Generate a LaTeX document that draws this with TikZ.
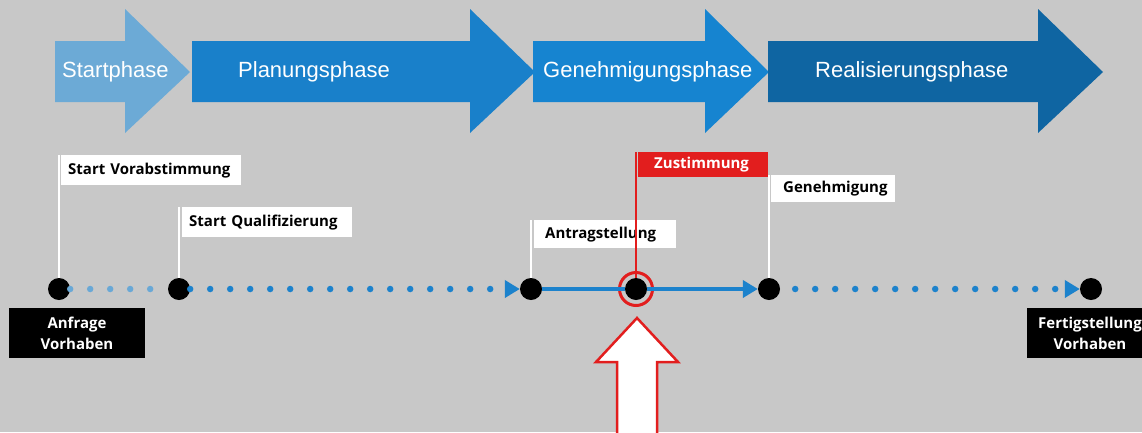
\documentclass[tikz,border=0pt]{standalone}
\usepackage{fontspec}
\setmainfont{Liberation Sans}
\newfontfamily\lblfont{Open Sans}
\usetikzlibrary{arrows.meta}
\definecolor{bggray}{RGB}{200,200,200}
\definecolor{phaseA}{RGB}{108,170,214}
\definecolor{phaseB}{RGB}{25,128,202}
\definecolor{phaseC}{RGB}{22,132,208}
\definecolor{phaseD}{RGB}{15,101,162}
\definecolor{dotlight}{RGB}{105,168,214}
\definecolor{dotblue}{RGB}{28,130,204}
\definecolor{alarmred}{RGB}{226,30,30}
\begin{document}
\begin{tikzpicture}[x=1pt,y=-1pt,
  phasetext/.style={text=white,font=\fontsize{22}{26}\selectfont,anchor=west,inner sep=0pt},
  mdot/.style={circle,fill=black,minimum size=22pt,inner sep=0pt},
  lbl/.style={fill=white,anchor=north west,font=\lblfont\bfseries\fontsize{15}{18}\selectfont,align=left,inner ysep=0pt},
  blk/.style={fill=black,text=white,font=\lblfont\bfseries\fontsize{15}{21}\selectfont,align=center,minimum height=50pt,inner sep=0pt},
  dotline/.style={line width=6.5pt,line cap=round,dash pattern=on 0pt off 20pt},
  tip/.style={-{Triangle[length=15pt,width=17pt]}},
  stem/.style={draw=white,line width=2.5pt}]
\useasboundingbox (0,0) rectangle (1142,432);
\fill[bggray] (0,0) rectangle (1142,432);
% phase arrows
\fill[phaseA] (55,41) -- (125,41) -- (125,9) -- (190,72) -- (125,133) -- (125,102) -- (55,102) -- cycle;
\fill[phaseB] (192,41) -- (470,41) -- (470,9) -- (535,72) -- (470,133) -- (470,102) -- (192,102) -- cycle;
\fill[phaseC] (533,41) -- (705,41) -- (705,9) -- (769,72) -- (705,133) -- (705,102) -- (533,102) -- cycle;
\fill[phaseD] (768,41) -- (1038,41) -- (1038,9) -- (1103,72) -- (1038,133) -- (1038,102) -- (768,102) -- cycle;
\node[phasetext] (ps) at (62,72) {Startphase};
\node[phasetext] (pp) at (238,72) {Planungsphase};
\node[phasetext] (pg) at (543,72) {Genehmigungsphase};
\node[phasetext] (pr) at (815,72) {Realisierungsphase};
% timeline dots
\node[mdot] (a) at (59,289) {};
\node[mdot] (q) at (179,289) {};
\node[mdot] (ant) at (531,289) {};
\node[mdot] (zu) at (636,289) {};
\node[mdot] (gen) at (769,289) {};
\node[mdot] (fe) at (1091,289) {};
\node[circle,draw=alarmred,line width=3pt,minimum size=33pt,inner sep=0pt] (ring) at (zu) {};
% connectors
\draw[dotline,draw=dotlight] (a) -- (q);
\draw[dotline,draw=dotblue,tip] (q) -- (ant);
\draw[draw=dotblue,line width=4pt] (ant) -- (zu);
\draw[draw=dotblue,line width=4pt,tip] (zu) -- (gen);
\draw[dotline,draw=dotblue,dash phase=5pt,tip] (gen) -- (fe);
% labels
\node[lbl,inner xsep=7pt,text width=166pt,minimum height=30pt] (sv) at (61,155) {Start Vorabstimmung};
\node[lbl,inner xsep=7pt,text width=156pt,minimum height=30pt] (sq) at (182,207) {Start Qualifizierung};
\node[lbl,inner xsep=11pt,text width=120pt,minimum height=28pt] (sa) at (534,220) {Antragstellung};
\node[lbl,inner xsep=12pt,text width=100pt,minimum height=27pt] (sg) at (771,175) {Genehmigung};
\node[lbl,fill=alarmred,text=white,inner xsep=16pt,text width=98pt,minimum height=25pt] (sz) at (638,152) {Zustimmung};
\draw[stem] (a) -- (a |- sv.north);
\draw[stem] (q) -- (q |- sq.north);
\draw[stem] (ant) -- (ant |- sa.north);
\draw[stem] (gen) -- (gen |- sg.north);
\draw[draw=alarmred,line width=2pt] (zu) -- (zu |- sz.north);
% end boxes
\node[blk,minimum width=136pt] (anf) at (77,333) {Anfrage\\Vorhaben};
\node[blk,minimum width=126pt] (fer) at (1090,333) {Fertigstellung\\Vorhaben};
% big red arrow
\filldraw[fill=white,draw=alarmred,line width=2.5pt,line join=miter]
  (637,318) -- (678,362) -- (657,362) -- (657,440) -- (617,440) -- (617,362) -- (596,362) -- cycle;
\end{tikzpicture}
\end{document}
